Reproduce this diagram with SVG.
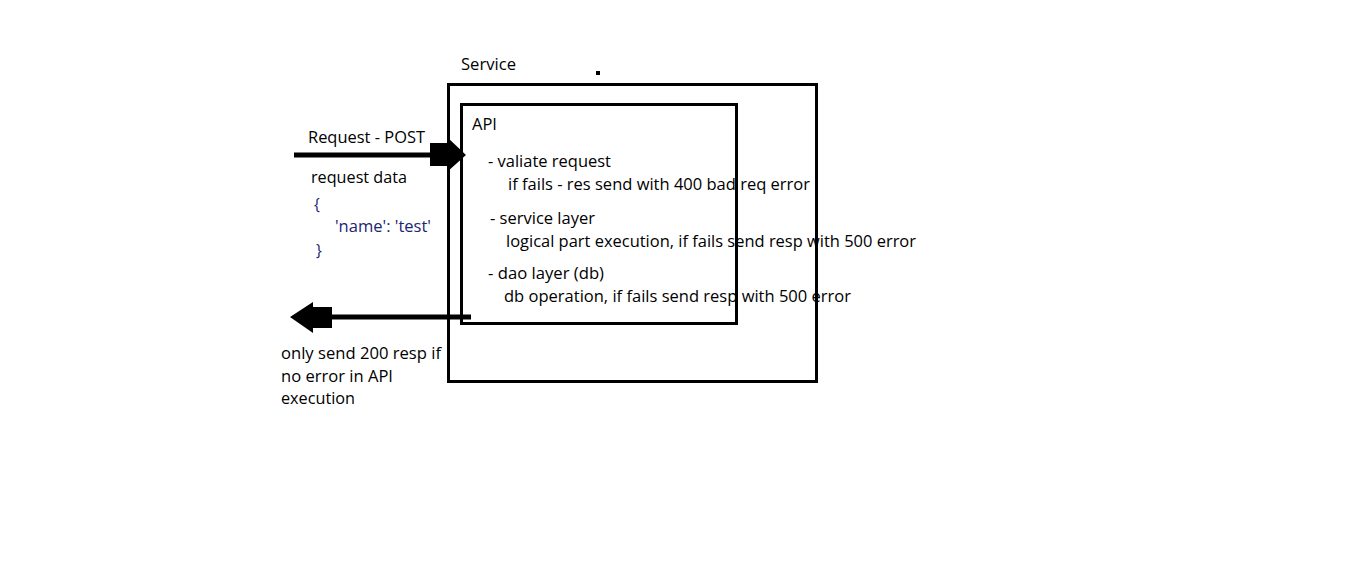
<svg xmlns="http://www.w3.org/2000/svg" width="1351" height="564" viewBox="0 0 1351 564">
<style>
text{font-family:"Open Sans","Liberation Sans",sans-serif;font-size:15.5px;fill:#000}
.n{fill:#1c2470}
.box{fill:none;stroke:#000;stroke-width:3}
.ln{stroke:#000;stroke-width:5;fill:none}
</style>
<rect width="1351" height="564" fill="#fff"/>
<g id="service">
<rect class="box" x="448.5" y="84.5" width="368" height="297"/>
<text x="461" y="70" textLength="55" lengthAdjust="spacingAndGlyphs">Service</text>
<rect x="596" y="71" width="4" height="4" fill="#000"/>
</g>
<g id="api">
<rect class="box" x="461.5" y="104.5" width="275" height="219"/>
<text x="472" y="130" textLength="25" lengthAdjust="spacingAndGlyphs">API</text>
<text x="488" y="167" textLength="123" lengthAdjust="spacingAndGlyphs">- valiate request</text>
<text x="508" y="190" textLength="302" lengthAdjust="spacingAndGlyphs">if fails - res send with 400 bad req error</text>
<text x="490" y="224" textLength="105" lengthAdjust="spacingAndGlyphs">- service layer</text>
<text x="506" y="247" textLength="410" lengthAdjust="spacingAndGlyphs">logical part execution, if fails send resp with 500 error</text>
<text x="488" y="279" textLength="116" lengthAdjust="spacingAndGlyphs">- dao layer (db)</text>
<text x="504" y="302" textLength="347" lengthAdjust="spacingAndGlyphs">db operation, if fails send resp with 500 error</text>
</g>
<g id="request">
<text x="308" y="143" textLength="117" lengthAdjust="spacingAndGlyphs">Request - POST</text>
<text x="311" y="183" textLength="96" lengthAdjust="spacingAndGlyphs">request data</text>
<text class="n" x="314" y="210">{</text>
<text class="n" x="335" y="232" textLength="96" lengthAdjust="spacingAndGlyphs">'name': 'test'</text>
<text class="n" x="316" y="256">}</text>
</g>
<g id="response">
<text x="281" y="359" textLength="160" lengthAdjust="spacingAndGlyphs">only send 200 resp if</text>
<text x="281" y="382" textLength="112" lengthAdjust="spacingAndGlyphs">no error in API</text>
<text x="281" y="404" textLength="74" lengthAdjust="spacingAndGlyphs">execution</text>
</g>
<g id="connectors">
<line class="ln" x1="294" y1="155" x2="432" y2="155"/>
<polygon points="430,143 447,143 447,137 466,155 447,172 447,166 430,166" fill="#000"/>
<line class="ln" x1="471" y1="317" x2="330" y2="317"/>
<polygon points="290,317 313,302 313,307 332,307 332,328 313,328 313,333" fill="#000"/>
</g>
</svg>
